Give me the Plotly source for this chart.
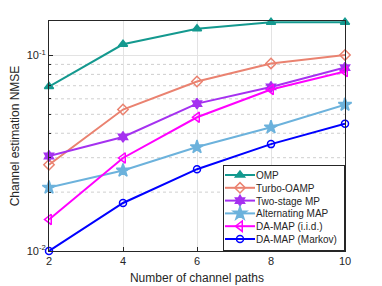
import plotly.graph_objects as go

paths = [2, 4, 6, 8, 10]
omp = [0.0693, 0.114, 0.137, 0.148, 0.148]
turbo_oamp = [0.0276, 0.0529, 0.0736, 0.091, 0.1006]
two_stage_mp = [0.0306, 0.0383, 0.0567, 0.069, 0.0867]
alt_map = [0.0211, 0.0258, 0.034, 0.0429, 0.056]
da_map_iid = [0.0145, 0.0299, 0.0483, 0.067, 0.0828]
da_map_markov = [0.0100, 0.0176, 0.0262, 0.0352, 0.0448]
y_tick_vals = [0.01, 0.1]
y_tick_text = ["10<sup>-2</sup>", "10<sup>-1</sup>"]
y_minor_vals = [0.02, 0.03, 0.04, 0.05, 0.06, 0.07, 0.08, 0.09]

series = [
    ("OMP", omp, "#14998f", "triangle-up", 8),
    ("Turbo-OAMP", turbo_oamp, "#ea8270", "diamond-open", 8),
    ("Two-stage MP", two_stage_mp, "#a531f0", "hexagram", 8),
    ("Alternating MAP", alt_map, "#6cb2dc", "star", 10),
    ("DA-MAP (i.i.d.)", da_map_iid, "#ff00ff", "triangle-left-open", 9),
    ("DA-MAP (Markov)", da_map_markov, "#0000ff", "circle-open", 7),
]

fig = go.Figure()
for name, vals, color, sym, size in series:
    fig.add_trace(go.Scatter(
        x=paths, y=vals, name=name, mode="lines+markers",
        line=dict(color=color, width=2),
        marker=dict(symbol=sym, size=size, color=color,
                    line=dict(color=color, width=1.5)),
        cliponaxis=False,
    ))

for v in y_minor_vals:
    fig.add_shape(type="line", xref="paper", x0=0, x1=1, yref="y", y0=v, y1=v,
                  line=dict(color="#cfcfcf", width=1, dash="dot"), layer="below")

fig.update_layout(
    width=382, height=286,
    margin=dict(l=49, r=37, t=21, b=35),
    paper_bgcolor="white", plot_bgcolor="white",
    font=dict(family="Liberation Sans, Arial", size=11, color="#262626"),
    showlegend=True,
    legend=dict(x=1, y=0, xanchor="right", yanchor="bottom",
                bgcolor="white", bordercolor="#262626", borderwidth=1,
                font=dict(size=10), tracegroupgap=0, itemwidth=30,
                traceorder="normal"),
    xaxis=dict(
        title=dict(text="Number of channel paths", standoff=7, font=dict(size=12)),
        range=[2, 10], tickvals=paths, automargin=False,
        showgrid=True, gridcolor="#e3e3e3", gridwidth=1,
        showline=True, mirror=True, linecolor="#262626", linewidth=1,
        ticks="inside", ticklen=4, tickcolor="#262626",
        tickfont=dict(size=11), zeroline=False,
    ),
    yaxis=dict(
        title=dict(text="Channel estimation NMSE", standoff=4, font=dict(size=12)),
        type="log", range=[-2, -0.8239], automargin=False,
        tickvals=y_tick_vals, ticktext=y_tick_text,
        showgrid=True, gridcolor="#e3e3e3", gridwidth=1,
        showline=True, mirror=True, linecolor="#262626", linewidth=1,
        ticks="inside", ticklen=4, tickcolor="#262626",
        minor=dict(tickvals=y_minor_vals, ticks="inside", ticklen=2, tickcolor="#262626"),
        tickfont=dict(size=11), zeroline=False,
    ),
)

post_js = """
document.body.style.margin = '0';
document.body.style.padding = '0';
var gd = document.getElementById('{plot_id}');
var leg = gd.querySelector('g.legend');
if (leg) {
  var items = leg.querySelectorAll('g.traces');
  var step = 12.8, topShift = 5.5, dx = 4, textDx = 4;
  var re = /translate\\(([-\\d.e]+)[ ,]+([-\\d.e]+)\\)/;
  var m = re.exec(items[0].getAttribute('transform'));
  var x0 = parseFloat(m[1]), y0 = parseFloat(m[2]);
  for (var i = 0; i < items.length; i++) {
    items[i].setAttribute('transform', 'translate(' + (x0 - dx) + ',' + (y0 - topShift + i * step) + ')');
    var t = items[i].querySelector('text.legendtext');
    if (t) {
      var tx = parseFloat(t.getAttribute('x') || '40');
      t.setAttribute('x', tx - textDx);
      var ts = t.querySelectorAll('tspan[x]');
      for (var k = 0; k < ts.length; k++) ts[k].setAttribute('x', parseFloat(ts[k].getAttribute('x')) - textDx);
    }
  }
  var bg = leg.querySelector('rect.bg');
  var oldH = parseFloat(bg.getAttribute('height'));
  var oldW = parseFloat(bg.getAttribute('width'));
  var newH = 8 + 13.5 - 0.5 + (items.length - 1) * step + (13.5 - 13.5) + 0;
  newH = (13.5 - topShift) + (items.length - 1) * step + 13;
  var newW = oldW - 6;
  bg.setAttribute('height', newH);
  bg.setAttribute('width', newW);
  var lt = re.exec(leg.getAttribute('transform'));
  leg.setAttribute('transform', 'translate(' + (parseFloat(lt[1]) + 6) + ',' + (parseFloat(lt[2]) + oldH - newH) + ')');
}
"""

fig.write_html("out.html", post_script=post_js, config={"displayModeBar": False})
